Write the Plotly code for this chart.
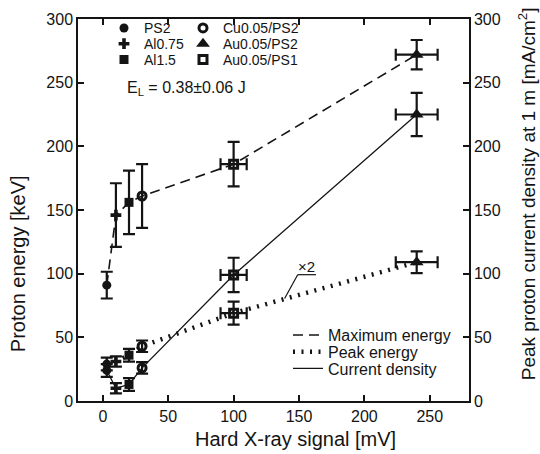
import plotly.graph_objects as go

# ---- data ----
samples = ["PS2", "Al0.75", "Al1.5", "Cu0.05/PS2", "Au0.05/PS2", "Au0.05/PS1"]
symbols = ["circle", "cross", "square", "circle-open", "triangle-up", "square-open"]
xray = [3, 10, 20, 30, 240, 100]
xray_err = [0, 0, 0, 0, 16, 10]
max_energy = [91, 146, 156, 161, 272, 186]
max_err = [10.5, 25, 25, 25, 11.5, 17.5]
peak_energy = [29, 31, 36, 43, 109, 69]
peak_err = [5, 4, 5, 4.5, 8.5, 9]
current = [24, 10, 13, 26, 225, 99]
current_err = [5, 4, 5, 4.5, 17, 13.5]

# line order along the x-ray signal
line_order = [0, 1, 2, 3, 5, 4]

FONT = "Liberation Sans, Arial, sans-serif"
INK = "#141414"

fig = go.Figure()

lx = [xray[i] for i in line_order]
line_defs = [
    ("Maximum energy", [max_energy[i] for i in line_order], dict(width=1.6, dash="10px,6px"), "y", "legend7"),
    ("Peak energy", [peak_energy[i] for i in line_order], dict(width=4.5, dash="2px,6.5px"), "y", "legend8"),
    ("Current density", [current[i] for i in line_order], dict(width=1.3), "y2", "legend9"),
]
for name, yv, ln, ax, lg in line_defs:
    fig.add_trace(go.Scatter(x=lx, y=yv, mode="lines", name=name, yaxis=ax,
                             line=dict(color=INK, **ln), legend=lg))

sizes = {"circle": 9, "cross": 9, "square": 9, "circle-open": 8,
         "triangle-up": 12, "square-open": 8}
legend_ids = ["legend", "legend2", "legend3", "legend4", "legend5", "legend6"]
for i, s in enumerate(samples):
    sym = symbols[i]
    mk = dict(symbol=sym, size=sizes[sym], color=INK,
              line=dict(width=3 if sym.endswith("open") else 0, color=INK))
    ex = dict(type="data", array=[xray_err[i]], visible=xray_err[i] > 0,
              color=INK, thickness=2.2, width=6)
    fig.add_trace(go.Scatter(
        x=[xray[i], xray[i]], y=[max_energy[i], peak_energy[i]], mode="markers",
        name=s, marker=mk, legend=legend_ids[i],
        error_y=dict(type="data", array=[max_err[i], peak_err[i]], color=INK, thickness=2.2, width=6),
        error_x=dict(ex, array=[xray_err[i], xray_err[i]])))
    fig.add_trace(go.Scatter(
        x=[xray[i]], y=[current[i]], mode="markers", yaxis="y2", showlegend=False,
        name=s, marker=mk,
        error_y=dict(type="data", array=[current_err[i]], color=INK, thickness=2.2, width=6),
        error_x=ex))

L, R, T, B = 78, 469, 13, 401
W = R - L
H = B - T
def px(x):
    return (x - L) / W
def py(y):
    return (B - y) / H

legend_common = dict(font=dict(family=FONT, size=16, color=INK), bgcolor="rgba(0,0,0,0)",
                     borderwidth=0, xanchor="left", yanchor="middle")
# marker legend positions (px: symbol centre x, row centre y)
leg_pos = [(124, 22.5), (124, 38.5), (124, 54.5), (203, 22.5), (203, 38.5), (203, 54.5)]
layout_legends = {}
for lid, (mx, my) in zip(legend_ids, leg_pos):
    layout_legends[lid] = dict(legend_common, x=px(mx - 20), y=py(my),
                               font=dict(family=FONT, size=14, color=INK))
for lid, my in zip(["legend7", "legend8", "legend9"], [334, 351, 368]):
    layout_legends[lid] = dict(legend_common, x=px(288), y=py(my))

axis_common = dict(showline=True, linewidth=1.5, linecolor=INK, ticks="inside", ticklen=6,
                   tickwidth=1.5, tickcolor=INK, showgrid=False, zeroline=False,
                   tickfont=dict(family=FONT, size=16, color=INK))

fig.update_layout(
    width=540, height=454,
    margin=dict(l=L, r=540 - R, t=T, b=454 - B),
    paper_bgcolor="white", plot_bgcolor="white",
    font=dict(family=FONT, color=INK),
    xaxis=dict(axis_common, range=[-19, 280], tickvals=[0, 50, 100, 150, 200, 250], mirror="ticks"),
    yaxis=dict(axis_common, range=[0, 300], tickvals=[0, 50, 100, 150, 200, 250, 300]),
    yaxis2=dict(axis_common, range=[0, 300], tickvals=[0, 50, 100, 150, 200, 250, 300],
                overlaying="y", side="right"),
    **layout_legends,
)

ann_font = dict(family=FONT, size=20, color=INK)
fig.add_annotation(text="Hard X-ray signal [mV]", xref="paper", yref="paper",
                   x=px(295), y=py(440), showarrow=False, font=ann_font,
                   xanchor="center", yanchor="middle")
fig.add_annotation(text="Proton energy [keV]", xref="paper", yref="paper",
                   x=px(18), y=py(262), showarrow=False, font=ann_font, textangle=-90,
                   xanchor="center", yanchor="middle")
fig.add_annotation(text="Peak proton current density at 1 m [mA/cm<sup>2</sup>]", xref="paper", yref="paper",
                   x=px(527), y=py(191), showarrow=False, font=dict(ann_font, size=19), textangle=-90,
                   xanchor="center", yanchor="middle")
fig.add_annotation(text="E<sub>L</sub> = 0.38±0.06 J", xref="paper", yref="paper",
                   x=px(125), y=py(84), showarrow=False, font=dict(family=FONT, size=16, color=INK),
                   xanchor="left", yanchor="middle")
# x2 label for the peak-energy curve
fig.add_annotation(text="×2", x=156, y=105.5, showarrow=False,
                   font=dict(family=FONT, size=15, color=INK), xanchor="center", yanchor="middle")
fig.add_shape(type="line", x0=149, y0=99.2, x1=163, y1=99.2, line=dict(color=INK, width=1.2))
fig.add_shape(type="line", x0=149, y0=99.2, x1=139, y1=80.5, line=dict(color=INK, width=1.2))

fig.write_html("out.html")
